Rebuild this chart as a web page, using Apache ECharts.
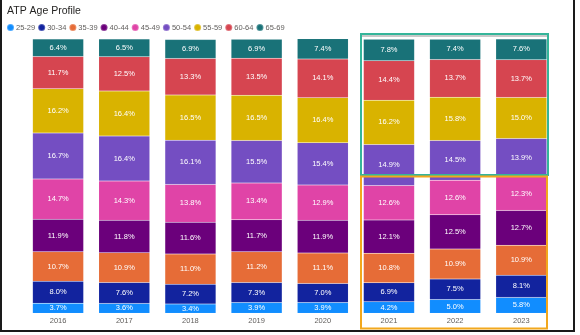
<!DOCTYPE html>
<html>
<head>
<meta charset="utf-8">
<script src="https://cdn.jsdelivr.net/npm/echarts@6/dist/echarts.min.js"></script>
<style>
html,body{margin:0;padding:0;background:#fff;}
#c{width:580px;height:335px;}
</style>
</head>
<body>
<div id="c"></div>
<script>
const years = ['2016','2017','2018','2019','2020','2021','2022','2023'];
const groups = ['25-29','30-34','35-39','40-44','45-49','50-54','55-59','60-64','65-69'];
const colors = ['#118DFF','#12239E','#E66C37','#6B007B','#E044A7','#744EC2','#D9B300','#D64550','#197278'];
const v25_29 = [3.7,3.6,3.4,3.9,3.9,4.2,5.0,5.8];
const v30_34 = [8.0,7.6,7.2,7.3,7.0,6.9,7.5,8.1];
const v35_39 = [10.7,10.9,11.0,11.2,11.1,10.8,10.9,10.9];
const v40_44 = [11.9,11.8,11.6,11.7,11.9,12.1,12.5,12.7];
const v45_49 = [14.7,14.3,13.8,13.4,12.9,12.6,12.6,12.3];
const v50_54 = [16.7,16.4,16.1,15.5,15.4,14.9,14.5,13.9];
const v55_59 = [16.2,16.4,16.5,16.5,16.4,16.2,15.8,15.0];
const v60_64 = [11.7,12.5,13.3,13.5,14.1,14.4,13.7,13.7];
const v65_69 = [6.4,6.5,6.9,6.9,7.4,7.8,7.4,7.6];
const values = [v25_29,v30_34,v35_39,v40_44,v45_49,v50_54,v55_59,v60_64,v65_69];

const FONT = "'Segoe UI','Liberation Sans',Arial,sans-serif";
const chart = echarts.init(document.getElementById('c'), null, {renderer:'canvas'});
chart.setOption({
  animation:false,
  title:{text:'ATP Age Profile',left:2,top:1,textStyle:{fontSize:10.5,fontWeight:'normal',color:'#252423',fontFamily:FONT}},
  legend:{
    left:1, top:18, icon:'circle', itemWidth:7, itemHeight:7, itemGap:2,
    textStyle:{fontSize:7.5,color:'#605E5C',fontFamily:FONT,padding:[0,0,0,-3]},
    data:groups
  },
  grid:{left:25,right:25.6,top:39,bottom:21.7},
  xAxis:{type:'category',data:years,axisLine:{show:false},axisTick:{show:false},
    axisLabel:{color:'#605E5C',fontSize:7.5,fontFamily:FONT,margin:4}},
  yAxis:{type:'value',min:0,max:100,show:false,splitLine:{show:false}},
  series: groups.map((g,i)=>({
    name:g,type:'bar',stack:'s',barWidth:51,
    itemStyle:{color:colors[i],borderColor:'rgba(255,255,255,0.25)',borderWidth:0.5,borderType:'dotted'},
    label:{show:true,position:'inside',color:'#fff',fontSize:7.5,fontFamily:FONT,
      formatter:p=>p.value.toFixed(1)+'%'},
    data:values[i]
  })),
  graphic:[
    {type:'rect',shape:{x:1,y:-5,width:573,height:336},style:{fill:null,stroke:'#1a1a1a',lineWidth:2},z:100},
    {type:'rect',shape:{x:362,y:35,width:185,height:2},style:{fill:'#c8c8c8'},z:99},
    {type:'rect',shape:{x:361,y:34,width:187,height:141},style:{fill:null,stroke:'#35B59A',lineWidth:2},z:100},
    {type:'rect',shape:{x:361,y:176.5,width:186,height:152},style:{fill:null,stroke:'#F2A81D',lineWidth:2},z:100}
  ]
});
</script>
</body>
</html>
